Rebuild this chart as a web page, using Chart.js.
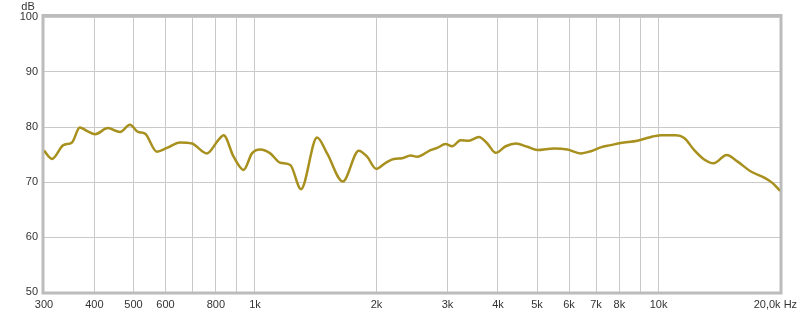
<!DOCTYPE html>
<html>
<head>
<meta charset="utf-8">
<script src="https://cdn.jsdelivr.net/npm/chart.js@4/dist/chart.umd.min.js"></script>
<style>
html,body{margin:0;padding:0;background:#fff;}
#wrap{width:800px;height:315px;position:relative;}
</style>
</head>
<body>
<div id="wrap"><canvas id="c" width="800" height="315"></canvas></div>
<script>
// Frequency (Hz) of each sampled point
const freqs = [300,314,335,352,368,383,402,432,463,490,513,534,571,605,652,698,760,811,836,885,937,983,1031,1091,1155,1223,1300,1425,1509,1650,1808,1896,1996,2100,2208,2316,2428,2523,2723,2828,2966,3081,3231,3387,3588,3765,3949,4180,4426,4731,5010,5508,5946,6415,6790,7190,7613,8061,8867,9478,10134,11040,11578,12260,12976,13692,14751,15706,16940,18285,19180,20000];
// Level (dB) at each frequency
const levels = [75.7,74.2,76.7,77.2,79.9,79.3,78.7,79.8,79.1,80.4,79.1,78.8,75.5,76.2,77.2,77.0,75.2,77.6,78.5,74.6,72.2,75.2,75.9,75.2,73.5,73.1,68.7,78.1,75.2,70.1,75.7,74.6,72.4,73.4,74.2,74.3,74.8,74.6,75.8,76.2,76.9,76.5,77.6,77.5,78.2,77.0,75.3,76.5,77.0,76.4,75.8,76.1,75.9,75.2,75.6,76.3,76.7,77.1,77.5,78.1,78.5,78.5,78.0,75.8,74.1,73.4,74.9,73.7,71.9,70.8,69.8,68.4];
// X-axis tick positions and their labels
const xTickValues = [300,400,500,600,700,800,900,1000,2000,3000,4000,5000,6000,7000,8000,9000,10000,20000];
const xTickLabels = ["300","400","500","600","","800","","1k","2k","3k","4k","5k","6k","7k","8k","","10k","20,0k Hz\u00a0\u00a0\u00a0"];
// Y-axis range
const yMin = 50, yMax = 100, yStep = 10;
const yUnit = "dB";

const FONT = {family: "'Liberation Sans', Arial, sans-serif", size: 11};

const framePlugin = {
  id: 'frame',
  beforeDatasetsDraw(chart) {
    const {ctx, chartArea: a} = chart;
    ctx.save();
    ctx.strokeStyle = '#bcbcbc';
    ctx.lineWidth = 3;
    ctx.strokeRect(a.left - 1, a.top - 1.5, a.right - a.left + 2, a.bottom - a.top + 2.5);
    ctx.restore();
  },
  afterDraw(chart) {
    const {ctx, chartArea: a} = chart;
    ctx.save();
    ctx.fillStyle = '#333';
    ctx.font = "11px 'Liberation Sans', Arial, sans-serif";
    ctx.textAlign = 'center';
    ctx.textBaseline = 'middle';
    ctx.fillText(yUnit, 28, 7);
    ctx.restore();
  }
};

new Chart(document.getElementById('c'), {
  type: 'line',
  data: {
    datasets: [{
      data: freqs.map((f, i) => ({x: f, y: levels[i]})),
      borderColor: '#a8901e',
      borderWidth: 2.5,
      pointRadius: 0,
      cubicInterpolationMode: 'monotone',
      fill: false
    }]
  },
  options: {
    responsive: false,
    animation: false,
    events: [],
    layout: {padding: {top: 17, right: 20, left: 0, bottom: 0}},
    plugins: {legend: {display: false}, tooltip: {enabled: false}},
    scales: {
      x: {
        type: 'logarithmic',
        min: 300,
        max: 20000,
        afterBuildTicks(scale) { scale.ticks = xTickValues.map(v => ({value: v})); },
        afterFit(scale) { scale.height = 23; scale.paddingLeft = 0; scale.paddingRight = 0; },
        border: {display: false},
        grid: {
          color: ctx => (ctx.tick && (ctx.tick.value === 300 || ctx.tick.value === 20000)) ? 'rgba(0,0,0,0)' : '#c9c9c9',
          lineWidth: 1,
          drawTicks: false
        },
        ticks: {
          autoSkip: false,
          maxRotation: 0,
          padding: 6,
          color: '#333',
          font: FONT,
          callback: (v, i) => xTickLabels[i]
        }
      },
      y: {
        min: yMin,
        max: yMax,
        afterFit(scale) { scale.width = 44; scale.paddingTop = 0; scale.paddingBottom = 0; },
        border: {display: false},
        grid: {color: '#c9c9c9', lineWidth: 1, drawTicks: false},
        ticks: {stepSize: yStep, padding: 6, color: '#333', font: FONT}
      }
    }
  },
  plugins: [framePlugin]
});
</script>
</body>
</html>
